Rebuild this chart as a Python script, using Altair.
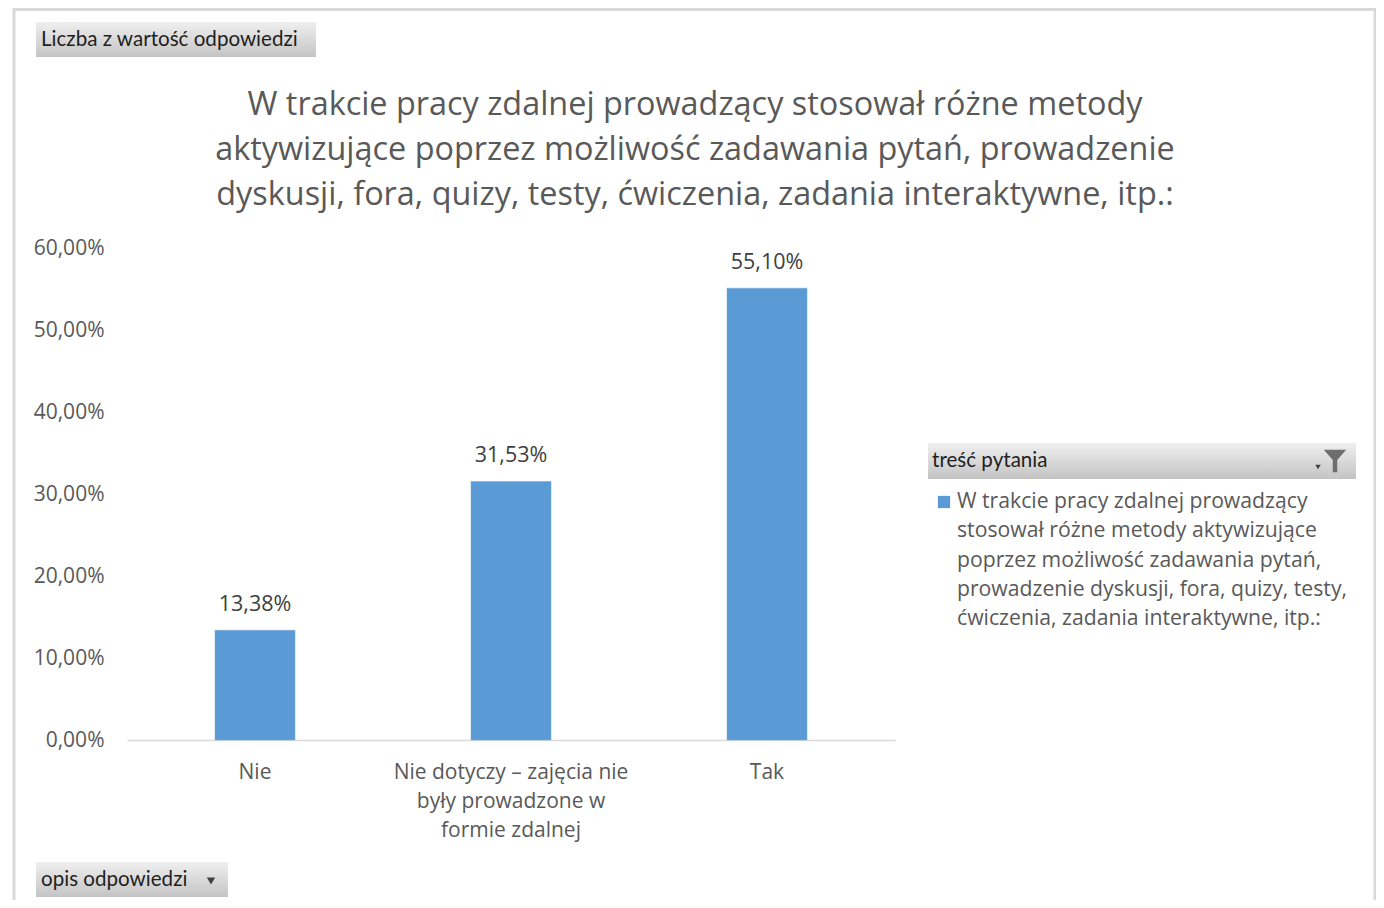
import altair as alt
import pandas as pd

# ---- data ----
categories = [
    "Nie",
    "Nie dotyczy – zajęcia nie były prowadzone w formie zdalnej",
    "Tak",
]
values = [0.1338, 0.3153, 0.5510]
label_lines = [
    ["Nie"],
    ["Nie dotyczy – zajęcia nie", "były prowadzone w", "formie zdalnej"],
    ["Tak"],
]
series_name = ("W trakcie pracy zdalnej prowadzący stosował różne metody aktywizujące "
               "poprzez możliwość zadawania pytań, prowadzenie dyskusji, fora, quizy, "
               "testy, ćwiczenia, zadania interaktywne, itp.:")
legend_lines = [
    "W trakcie pracy zdalnej prowadzący",
    "stosował różne metody aktywizujące",
    "poprzez możliwość zadawania pytań,",
    "prowadzenie dyskusji, fora, quizy, testy,",
    "ćwiczenia, zadania interaktywne, itp.:",
]
title_lines = [
    "W trakcie pracy zdalnej prowadzący stosował różne metody",
    "aktywizujące poprzez możliwość zadawania pytań, prowadzenie",
    "dyskusji, fora, quizy, testy, ćwiczenia, zadania interaktywne, itp.:",
]
y_ticks = [0.0, 0.1, 0.2, 0.3, 0.4, 0.5, 0.6]
value_button = "Liczba z wartość odpowiedzi"
axis_button = "opis odpowiedzi"
legend_button = "treść pytania"

df = pd.DataFrame({"kategoria": categories, "wartosc": values, "seria": [series_name] * 3})
leg_df = pd.DataFrame({"seria": [series_name]})

FONT = "Open Sans"
BTN_FONT = "Lato"
GREY = "#595959"
BLUE = "#5B9BD5"

# label expression for multi-line category labels
expr = "datum.value"
for cat, lines in zip(categories, label_lines):
    if len(lines) > 1:
        arr = "[" + ",".join("'" + l + "'" for l in lines) + "]"
        expr = f"datum.value == '{cat}' ? {arr} : " + expr

color_scale = alt.Scale(domain=[series_name], range=[BLUE])

base = alt.Chart(df).encode(
    x=alt.X(
        "kategoria:N",
        sort=categories,
        scale=alt.Scale(paddingInner=0.6875, paddingOuter=0.34375),
        axis=alt.Axis(
            title=None, labelAngle=0, labelExpr=expr, domainColor="#D9D9D9",
            domainWidth=1.5, ticks=False, labelFontSize=21, labelColor=GREY,
            labelFont=FONT, labelPadding=21, labelLineHeight=29, labelLimit=0,
        ),
    ),
    y=alt.Y(
        "wartosc:Q",
        scale=alt.Scale(domain=[0, 0.6]),
        axis=alt.Axis(
            title=None, values=y_ticks,
            labelExpr="replace(format(datum.value, '.2%'), '.', ',')",
            domain=False, ticks=False, grid=False, labelPadding=23,
            labelFontSize=21, labelColor=GREY, labelFont=FONT,
        ),
    ),
)

bars = base.mark_bar(stroke="#6FA8DC", strokeWidth=0.5).encode(
    color=alt.Color("seria:N", scale=color_scale, legend=None)
)

labels = base.transform_calculate(
    lbl="replace(format(datum.wartosc, '.2%'), '.', ',')"
).mark_text(baseline="middle", dy=-25, fontSize=21.5, font=FONT, color="#404040").encode(
    text="lbl:N"
)

# legend (drawn from the series data)
leg_sym = alt.Chart(leg_df).mark_square(size=150, opacity=1).encode(
    x=alt.value(817), y=alt.value(254),
    color=alt.Color("seria:N", scale=color_scale, legend=None),
)
leg_txt = alt.Chart(leg_df).mark_text(
    text=legend_lines, align="left", baseline="middle", fontSize=21.2, font=FONT,
    color=GREY, lineHeight=29.3,
).encode(x=alt.value(830), y=alt.value(254))

one = pd.DataFrame({"k": [0]})
grad = alt.LinearGradient(
    gradient="linear",
    stops=[alt.GradientStop(color="#EFEFEF", offset=0), alt.GradientStop(color="#C4C4C4", offset=1)],
    x1=0, x2=0, y1=0, y2=1,
)

def rect(x, x2, y, y2, **kw):
    return alt.Chart(one).mark_rect(**kw).encode(
        x=alt.value(x), x2=alt.value(x2), y=alt.value(y), y2=alt.value(y2)
    )

def txt(s, x, y, size=20.6, align="left", color="#1F1F1F", font=BTN_FONT):
    return alt.Chart(one).mark_text(
        text=s, align=align, baseline="middle", fontSize=size, font=font, color=color
    ).encode(x=alt.value(x), y=alt.value(y))

title = alt.Chart(one).mark_text(
    text=title_lines, align="center", baseline="middle", fontSize=32.4, font=FONT,
    color=GREY, lineHeight=45,
).encode(x=alt.value(568), y=alt.value(-143))

border = rect(-113, 1248, -238.5, 700, fill="white", fillOpacity=0, stroke="#D9D9D9", strokeWidth=3)
btn1 = rect(-91, 189, -226, -191, color=grad)
btn1_t = txt(value_button, -86, -208)
btn2 = rect(-91, 101, 614, 649, color=grad)
btn2_t = txt(axis_button, -86, 632)
btn2_a = alt.Chart(one).mark_point(shape="triangle-down", filled=True, size=70, color="#404040", opacity=1).encode(
    x=alt.value(84), y=alt.value(633)
)
leg_h = rect(801, 1229, 195, 231, color=grad)
leg_t = txt(legend_button, 805, 213)
funnel = alt.Chart(one).mark_point(
    shape="M-1,-1L1,-1L0.2,-0.1L0.2,1L-0.2,1L-0.2,-0.1Z", filled=True, size=500,
    color="#6E6E6E", opacity=1,
).encode(x=alt.value(1208), y=alt.value(213))
funnel_a = alt.Chart(one).mark_point(shape="triangle-down", filled=True, size=30, color="#404040", opacity=1).encode(
    x=alt.value(1191), y=alt.value(219)
)

chart = alt.layer(
    border, title, bars, labels, leg_sym, leg_txt, btn1, btn1_t, btn2, btn2_t, btn2_a,
    leg_h, leg_t, funnel, funnel_a
).properties(
    width=768,
    height=492,
    padding={"left": 119, "top": 240, "right": 481, "bottom": 160},
    autosize=alt.AutoSizeParams(type="none"),
    background="white",
).configure_view(strokeWidth=0, strokeOpacity=0)

chart.save("out.html", embed_options={"renderer": "svg", "actions": False})
